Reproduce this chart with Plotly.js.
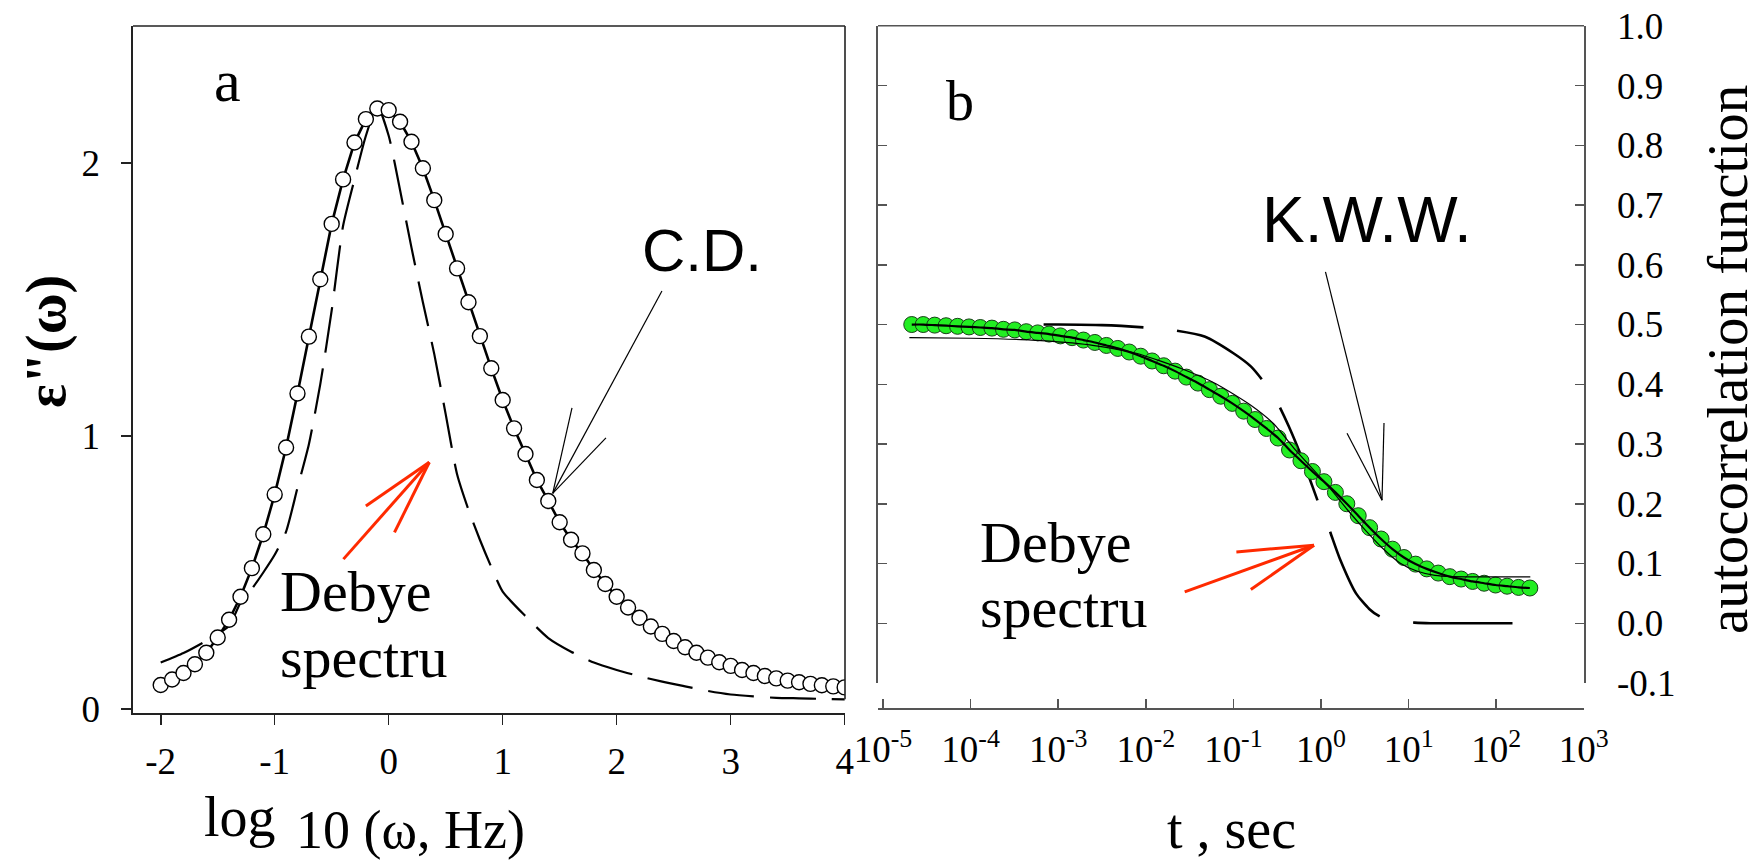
<!DOCTYPE html>
<html>
<head>
<meta charset="utf-8">
<script src="https://cdn.plot.ly/plotly-3.0.1.min.js"></script>
<style>
html,body{margin:0;padding:0;background:#ffffff;}
#chart{width:1761px;height:861px;}
</style>
</head>
<body>
<div id="chart"></div>
<script>
// ---------------- Panel a : dielectric loss spectrum ----------------
const cdLogW = [-2.0,-1.9,-1.8,-1.7,-1.6,-1.5,-1.4,-1.3,-1.2,-1.1,-1.0,-0.9,-0.8,-0.7,-0.6,-0.5,-0.4,-0.3,-0.2,-0.1,
  0.0,0.1,0.2,0.3,0.4,0.5,0.6,0.7,0.8,0.9,1.0,1.1,1.2,1.3,1.4,1.5,1.6,1.7,1.8,1.9,2.0,2.1,2.2,2.3,2.4,2.5,2.6,2.7,2.8,2.9,
  3.0,3.1,3.2,3.3,3.4,3.5,3.6,3.7,3.8,3.9,4.0];
const cdEps = [0.088,0.108,0.132,0.164,0.206,0.262,0.327,0.411,0.516,0.640,0.786,0.958,1.156,1.364,1.574,1.777,1.940,2.075,2.161,2.200,
  2.194,2.151,2.078,1.981,1.864,1.740,1.614,1.490,1.366,1.248,1.132,1.028,0.934,0.839,0.762,0.684,0.620,0.570,0.509,0.458,0.411,0.372,0.334,0.302,0.275,0.249,0.226,0.206,0.188,0.171,
  0.158,0.143,0.132,0.121,0.112,0.104,0.098,0.092,0.087,0.083,0.079];
const debyeLogW = [-2.0,-1.8,-1.6,-1.4,-1.3,-1.2,-1.1,-1.0,-0.9,-0.8,-0.7,-0.6,-0.5,-0.4,-0.3,-0.2,-0.1,0.0,0.1,0.2,0.3,0.4,0.5,0.6,0.7,0.8,0.9,1.0,
  1.2,1.4,1.6,1.8,2.0,2.2,2.4,2.6,2.8,3.0,3.2,3.4,3.6,3.8,4.0];
const debyeEps = [0.170,0.205,0.250,0.305,0.390,0.440,0.500,0.565,0.650,0.810,0.970,1.190,1.460,1.770,1.940,2.100,2.210,2.100,1.900,1.690,1.490,1.300,1.080,0.860,0.730,0.620,0.520,0.430,
  0.340,0.260,0.210,0.170,0.143,0.120,0.100,0.083,0.066,0.053,0.046,0.041,0.039,0.037,0.035];
const aXTicks = [-2,-1,0,1,2,3,4];
const aYTicks = [0,1,2];

// ---------------- Panel b : autocorrelation function ----------------
const dataT = [2.13e-5,2.88e-5,3.89e-5,5.25e-5,7.10e-5,9.59e-5,1.29e-4,1.75e-4,2.37e-4,3.19e-4,
  4.32e-4,5.83e-4,7.87e-4,1.06e-3,1.44e-3,1.94e-3,2.62e-3,3.55e-3,4.79e-3,6.47e-3,
  8.75e-3,1.18e-2,1.60e-2,2.16e-2,2.91e-2,3.94e-2,5.32e-2,7.18e-2,9.71e-2,0.131,
  0.177,0.239,0.324,0.437,0.590,0.798,1.08,1.46,1.97,2.66,
  3.59,4.85,6.55,8.85,12.0,16.1,21.8,29.5,39.8,53.8,
  72.8,98.2,133,180,242];
const dataC = [0.500,0.500,0.499,0.498,0.497,0.496,0.495,0.494,0.492,0.491,
  0.488,0.486,0.484,0.481,0.478,0.474,0.470,0.465,0.460,0.454,
  0.447,0.439,0.431,0.422,0.412,0.402,0.391,0.380,0.368,0.355,
  0.341,0.326,0.310,0.290,0.272,0.254,0.237,0.219,0.200,0.180,
  0.160,0.141,0.124,0.110,0.099,0.091,0.084,0.078,0.074,0.070,
  0.067,0.064,0.062,0.060,0.059];
const fit2T = [2.0e-5,1.0e-4,5.0e-4,2.29e-3,7.76e-3,0.0257,0.0631,0.158,0.288,0.525,1.0,1.30,2.0,3.24,5.01,7.94,12.6,20.0,31.6,63.1,126,245];
const fit2C = [0.478,0.477,0.474,0.466,0.452,0.426,0.401,0.365,0.334,0.288,0.243,0.224,0.190,0.155,0.126,0.101,0.087,0.080,0.078,0.0777,0.0776,0.0775];
const debyeT = [2.0e-5,1.0e-4,1.0e-3,3.16e-3,0.01,0.0219,0.0468,0.1,0.158,0.214,0.316,0.427,0.631,1.0,1.22,1.64,2.51,3.55,4.72,7.08,11.7,17.8,39.8,100,245];
const debyeC = [0.500,0.500,0.500,0.499,0.495,0.490,0.480,0.452,0.430,0.407,0.370,0.330,0.270,0.190,0.160,0.108,0.050,0.024,0.011,0.004,0.001,0.0,0.0,0.0,0.0];
const bXTicks = [1e-5,1e-4,1e-3,1e-2,1e-1,1e0,1e1,1e2,1e3];
const bXTickText = ['10<sup>-5</sup>','10<sup>-4</sup>','10<sup>-3</sup>','10<sup>-2</sup>','10<sup>-1</sup>','10<sup>0</sup>','10<sup>1</sup>','10<sup>2</sup>','10<sup>3</sup>'];
const bYTicks = [-0.1,0.0,0.1,0.2,0.3,0.4,0.5,0.6,0.7,0.8,0.9,1.0];

// ---------------- layout helpers ----------------
const W = 1761, H = 861;
const SERIF = 'Liberation Serif, Times New Roman, serif';
const SANS = 'Liberation Sans, Arial, sans-serif';
const aXR = [-2.243, 4.003], aYR = [-0.0147, 2.502];
const bXR = [-5.057, 3.002], bYR = [-0.1, 1.0];
const bx = v => (v - bXR[0]) / (bXR[1] - bXR[0]);
const by = v => (v - bYR[0]) / (bYR[1] - bYR[0]);

const traces = [
  {x: debyeLogW, y: debyeEps, xaxis:'x', yaxis:'y', mode:'lines',
   line:{color:'#000', width:2.2, dash:'46px,16px', shape:'spline', smoothing:0.6}, hoverinfo:'skip'},
  {x: cdLogW, y: cdEps, xaxis:'x', yaxis:'y', mode:'lines+markers',
   line:{color:'#000', width:2.6},
   marker:{symbol:'circle', size:15, color:'#ffffff', line:{color:'#000', width:1.4}}, hoverinfo:'skip'},
  {x: debyeT, y: debyeC, xaxis:'x2', yaxis:'y2', mode:'lines',
   line:{color:'#000', width:2.6, dash:'100px,34px', shape:'spline', smoothing:0.6}, hoverinfo:'skip'},
  {x: dataT, y: dataC, xaxis:'x2', yaxis:'y2', mode:'markers',
   marker:{symbol:'circle', size:16, color:'#22ee22', line:{color:'#1a401a', width:1}}, hoverinfo:'skip'},
  {x: fit2T, y: fit2C, xaxis:'x2', yaxis:'y2', mode:'lines',
   line:{color:'#000', width:1.2, shape:'spline', smoothing:0.6}, hoverinfo:'skip'},
  {x: dataT, y: dataC, xaxis:'x2', yaxis:'y2', mode:'lines',
   line:{color:'#000', width:2.2, shape:'spline', smoothing:0.6}, hoverinfo:'skip'}
];

const tickFont = {family: SERIF, size: 37, color:'#000'};

const shapes = [
  // panel a frame (top & right)
  {type:'line', xref:'x domain', yref:'y domain', x0:0, x1:1, y0:1, y1:1, line:{color:'#222', width:1.6}},
  {type:'line', xref:'x domain', yref:'y domain', x0:1, x1:1, y0:0.02, y1:1, line:{color:'#222', width:1.6}},
  // panel b frame top
  {type:'line', xref:'x2 domain', yref:'y2 domain', x0:0, x1:1, y0:1, y1:1, line:{color:'#555', width:1.6}},
  // C.D. pointer
  {type:'line', xref:'x', yref:'y', x0:2.397, y0:1.531, x1:1.439, y1:0.790, line:{color:'#000', width:1.2}},
  {type:'line', xref:'x', yref:'y', x0:1.608, y0:1.103, x1:1.439, y1:0.790, line:{color:'#000', width:1.2}},
  {type:'line', xref:'x', yref:'y', x0:1.906, y0:0.993, x1:1.439, y1:0.790, line:{color:'#000', width:1.2}},
  // red arrow panel a
  {type:'line', xref:'x', yref:'y', x0:-0.397, y0:0.549, x1:0.356, y1:0.904, line:{color:'#ff2a00', width:3}},
  {type:'line', xref:'x', yref:'y', x0:-0.200, y0:0.744, x1:0.356, y1:0.904, line:{color:'#ff2a00', width:3}},
  {type:'line', xref:'x', yref:'y', x0:0.051, y0:0.647, x1:0.356, y1:0.904, line:{color:'#ff2a00', width:3}},
  // K.W.W. pointer
  {type:'line', xref:'x2 domain', yref:'y2 domain', x0:bx(0.051), y0:by(0.588), x1:bx(0.696), y1:by(0.206), line:{color:'#000', width:1.2}},
  {type:'line', xref:'x2 domain', yref:'y2 domain', x0:bx(0.719), y0:by(0.335), x1:bx(0.696), y1:by(0.206), line:{color:'#000', width:1.2}},
  {type:'line', xref:'x2 domain', yref:'y2 domain', x0:bx(0.297), y0:by(0.318), x1:bx(0.696), y1:by(0.206), line:{color:'#000', width:1.2}},
  // red arrow panel b
  {type:'line', xref:'x2 domain', yref:'y2 domain', x0:bx(-1.556), y0:by(0.0524), x1:bx(-0.080), y1:by(0.1306), line:{color:'#ff2a00', width:3}},
  {type:'line', xref:'x2 domain', yref:'y2 domain', x0:bx(-0.966), y0:by(0.1194), x1:bx(-0.080), y1:by(0.1306), line:{color:'#ff2a00', width:3}},
  {type:'line', xref:'x2 domain', yref:'y2 domain', x0:bx(-0.801), y0:by(0.0564), x1:bx(-0.080), y1:by(0.1306), line:{color:'#ff2a00', width:3}}
];

const ann = (o) => Object.assign({showarrow:false, xanchor:'center', yanchor:'middle'}, o);
const annotations = [
  ann({xref:'x', yref:'y', x:-1.418, y:2.300, text:'a', font:{family:SERIF, size:60, color:'#000'}}),
  ann({xref:'x', yref:'y', x:2.748, y:1.680, text:'C.D.', font:{family:SANS, size:60, color:'#000'}}),
  ann({xref:'x', yref:'y', x:-0.971, y:0.432, xanchor:'left', text:'Debye', font:{family:SERIF, size:58, color:'#000'}}),
  ann({xref:'x', yref:'y', x:-0.971, y:0.190, xanchor:'left', text:'spectru', font:{family:SERIF, size:58, color:'#000'}}),
  ann({xref:'x2 domain', yref:'y2 domain', x:bx(-4.121), y:by(0.874), text:'b', font:{family:SERIF, size:56, color:'#000'}}),
  ann({xref:'x2 domain', yref:'y2 domain', x:bx(0.52), y:by(0.675), text:'K.W.W.', font:{family:SANS, size:64, color:'#000'}}),
  ann({xref:'x2 domain', yref:'y2 domain', x:bx(-3.915), y:by(0.1356), xanchor:'left', text:'Debye', font:{family:SERIF, size:58, color:'#000'}}),
  ann({xref:'x2 domain', yref:'y2 domain', x:bx(-3.915), y:by(0.0268), xanchor:'left', text:'spectru', font:{family:SERIF, size:58, color:'#000'}}),
  // axis titles
  ann({xref:'paper', yref:'paper', x:202/W, y:1-817/H, xanchor:'left', text:'log', font:{family:SERIF, size:56, color:'#000'}}),
  ann({xref:'paper', yref:'paper', x:294/W, y:1-830/H, xanchor:'left', text:'10 (ω, Hz)', font:{family:SERIF, size:54, color:'#000'}}),
  ann({xref:'paper', yref:'paper', x:1231/W, y:1-829/H, text:'t , sec', font:{family:SERIF, size:56, color:'#000'}}),
  ann({xref:'paper', yref:'paper', x:46/W, y:1-342/H, textangle:-90, text:'ε"(ω)', font:{family:SERIF, size:56, color:'#000', weight:'bold'}}),
  ann({xref:'paper', yref:'paper', x:1727/W, y:1-360/H, textangle:-90, text:'autocorrelation function', font:{family:SERIF, size:57, color:'#000'}})
];

const layout = {
  width: W, height: H,
  margin:{l:0, r:0, t:0, b:0, pad:0},
  paper_bgcolor:'#ffffff', plot_bgcolor:'rgba(0,0,0,0)',
  showlegend:false,
  font:{family:SERIF, size:37, color:'#000'},
  xaxis:{domain:[133/W, 845/W], range:aXR, anchor:'y',
    tickmode:'array', tickvals:aXTicks, ticktext:aXTicks.map(v => String(v)),
    ticks:'outside', ticklen:10, tickwidth:1.6, tickcolor:'#222',
    showline:true, linecolor:'#222', linewidth:2.2, showgrid:false, zeroline:false,
    tickfont:tickFont, ticklabelstandoff:4},
  yaxis:{domain:[1-713/H, 1-26/H], range:aYR, anchor:'x',
    tickmode:'array', tickvals:aYTicks, ticktext:aYTicks.map(v => String(v)),
    ticks:'outside', ticklen:10, tickwidth:1.6, tickcolor:'#222',
    showline:true, linecolor:'#222', linewidth:1.6, showgrid:false, zeroline:false,
    tickfont:tickFont, ticklabelstandoff:14},
  xaxis2:{domain:[878/W, 1584/W], type:'log', range:bXR, anchor:'free', position:1-708/H,
    tickmode:'array', tickvals:bXTicks, ticktext:bXTickText,
    ticks:'inside', ticklen:9, tickwidth:1.5, tickcolor:'#555',
    showline:true, linecolor:'#555', linewidth:1.8, showgrid:false, zeroline:false,
    tickfont:tickFont, ticklabelstandoff:8},
  yaxis2:{domain:[1-683/H, 1-25.8/H], range:bYR, anchor:'x2', side:'right',
    tickmode:'array', tickvals:bYTicks, ticktext:bYTicks.map(v => v.toFixed(1)),
    ticks:'inside', ticklen:9, tickwidth:1.5, tickcolor:'#555', mirror:'ticks',
    showline:true, linecolor:'#555', linewidth:1.6, showgrid:false, zeroline:false,
    tickfont:tickFont, ticklabelstandoff:24},
  shapes: shapes,
  annotations: annotations
};

Plotly.newPlot('chart', traces, layout, {staticPlot:true, displayModeBar:false});
</script>
</body>
</html>
